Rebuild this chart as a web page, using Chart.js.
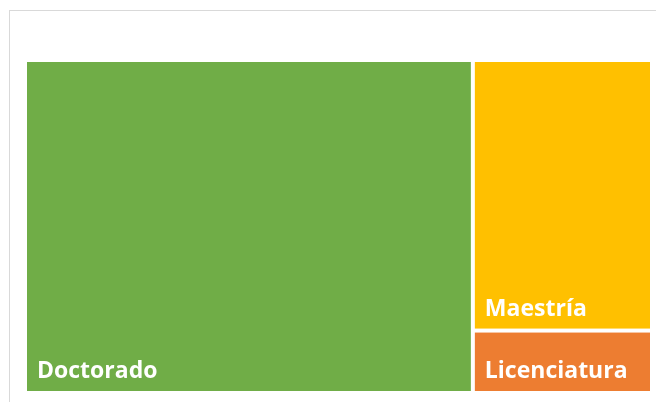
<!DOCTYPE html>
<html>
<head>
<meta charset="utf-8">
<script src="https://cdn.jsdelivr.net/npm/chart.js@4"></script>
<style>
body{margin:0;background:#fff;overflow:hidden;}
#frame{position:absolute;left:9px;top:10px;width:700px;height:500px;border:1px solid #d9d9d9;}
#treemap{position:absolute;left:0;top:0;}
</style>
</head>
<body>
<div id="frame"></div>
<canvas id="treemap" width="656" height="402"></canvas>
<script>

const categories = ["Doctorado", "Maestría", "Licenciatura"];
const values = [40, 13, 3];
const colors = ["#70AD47", "#FFC000", "#ED7D31"];

// first item takes a full-height column, the rest are stacked in the second column
function layoutTreemap(){

    let total = values.reduce((a, b) => a + b, 0);
    let firstW = values[0] / total;
    let rest = total - values[0];

    let rects = [{x0:0, x1:firstW, y0:0, y1:1}];

    let y = 1;
    for(let i = 1; i < values.length; i++){
        let h = values[i] / rest;
        rects.push({x0:firstW, x1:1, y0:y - h, y1:y});
        y -= h;
    }

    return rects;
}

const rects = layoutTreemap();

const treemapPlugin = {

    id:"treemapRects",

    afterDatasetsDraw(chart){

        const ctx = chart.ctx;
        const xs = chart.scales.x;
        const ys = chart.scales.y;
        const gap = 2;

        rects.forEach((r, i) => {

            let left = xs.getPixelForValue(r.x0) + gap;
            let right = xs.getPixelForValue(r.x1) - gap;
            let top = ys.getPixelForValue(r.y1) + gap;
            let bottom = ys.getPixelForValue(r.y0) - gap;

            ctx.save();
            ctx.fillStyle = colors[i];
            ctx.fillRect(left, top, right - left, bottom - top);

            ctx.fillStyle = "#ffffff";
            ctx.font = "bold 23px 'Open Sans'";
            ctx.textBaseline = "alphabetic";
            ctx.fillText(categories[i], left + 10, bottom - 13);
            ctx.restore();

        });

    }

};

new Chart(document.getElementById("treemap"), {

    type:"scatter",

    data:{
        datasets:[{
            label:"Nivel",
            data:rects.map((r, i) => ({x:(r.x0 + r.x1) / 2, y:(r.y0 + r.y1) / 2, v:values[i]})),
            pointRadius:0
        }]
    },

    options:{
        responsive:false,
        animation:false,
        layout:{padding:{left:25, right:4, top:60, bottom:9}},
        plugins:{legend:{display:false}, tooltip:{enabled:false}},
        scales:{
            x:{display:false, min:0, max:1},
            y:{display:false, min:0, max:1}
        }
    },

    plugins:[treemapPlugin]

});

</script>
</body>
</html>
